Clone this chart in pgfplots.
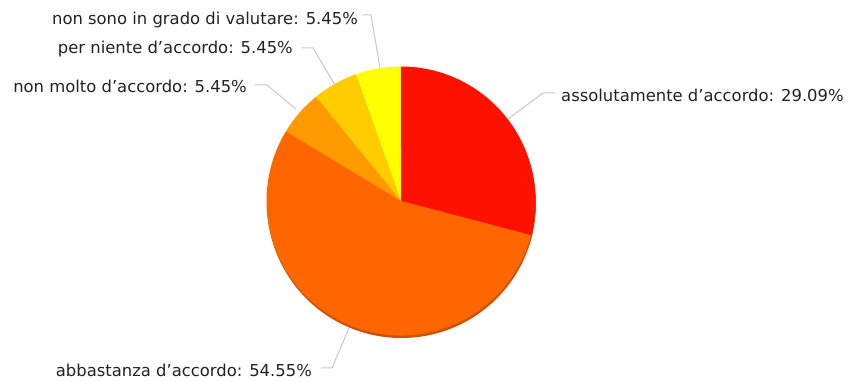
\documentclass[border=0pt]{standalone}
\usepackage{pgfplots}
\usepackage{pgfplotstable}
\pgfplotsset{compat=1.18}
\usepackage{fontspec}
\setmainfont{DejaVu Sans}
\definecolor{sA}{HTML}{FF1100}
\definecolor{sB}{HTML}{FF6600}
\definecolor{sC}{HTML}{FF9900}
\definecolor{sD}{HTML}{FFCC00}
\definecolor{sE}{HTML}{FFFF00}
\definecolor{shadow}{HTML}{C85200}
\definecolor{leader}{HTML}{C8C8C8}
\definecolor{txt}{HTML}{222222}
\tikzset{lbl/.style={text=txt, inner sep=0pt, font=\fontsize{16.4}{19}\selectfont}}

\pgfplotstableread{
idx value
0 29.09
1 54.55
2 5.45
3 5.45
4 5.45
}\piedata

\begin{document}
\begin{tikzpicture}
\pgfplotstablegetelem{0}{value}\of\piedata \let\vA\pgfplotsretval
\pgfplotstablegetelem{1}{value}\of\piedata \let\vB\pgfplotsretval
\pgfplotstablegetelem{2}{value}\of\piedata \let\vC\pgfplotsretval
\pgfplotstablegetelem{3}{value}\of\piedata \let\vD\pgfplotsretval
\pgfplotstablegetelem{4}{value}\of\piedata \let\vE\pgfplotsretval
\pgfmathsetmacro\tot{\vA+\vB+\vC+\vD+\vE}
\pgfmathsetmacro\aA{90}
\pgfmathsetmacro\aB{\aA-\vA/\tot*360}
\pgfmathsetmacro\aC{\aB-\vB/\tot*360}
\pgfmathsetmacro\aD{\aC-\vC/\tot*360}
\pgfmathsetmacro\aE{\aD-\vD/\tot*360}
\pgfmathsetmacro\aF{\aE-\vE/\tot*360}
\begin{axis}[
  width=854pt, height=382pt, scale only axis,
  xmin=0, xmax=854, ymin=0, ymax=382,
  axis lines=none, clip=false,
]
\path (axis cs:0,0) rectangle (axis cs:854,382);
% shadow
\fill[shadow] (axis cs:401.5,178.5) circle[radius=134.5pt];
\fill[sA] (axis cs:401,181) -- ++(\aA:134.5pt) arc[start angle=\aA, end angle=\aB, radius=134.5pt] -- cycle;
\fill[sB] (axis cs:401,181) -- ++(\aB:134.5pt) arc[start angle=\aB, end angle=\aC, radius=134.5pt] -- cycle;
\fill[sC] (axis cs:401,181) -- ++(\aC:134.5pt) arc[start angle=\aC, end angle=\aD, radius=134.5pt] -- cycle;
\fill[sD] (axis cs:401,181) -- ++(\aD:134.5pt) arc[start angle=\aD, end angle=\aE, radius=134.5pt] -- cycle;
\fill[sE] (axis cs:401,181) -- ++(\aE:134.5pt) arc[start angle=\aE, end angle=\aF, radius=134.5pt] -- cycle;
% leader lines
\draw[leader, line width=1pt] (axis cs:362,367) -- (axis cs:371,367) -- (axis cs:380,314);
\draw[leader, line width=1pt] (axis cs:302,334) -- (axis cs:313,334) -- (axis cs:335,297);
\draw[leader, line width=1pt] (axis cs:255,297) -- (axis cs:267,297) -- (axis cs:296,273);
\draw[leader, line width=1pt] (axis cs:555,289) -- (axis cs:543,289) -- (axis cs:508,263);
\draw[leader, line width=1pt] (axis cs:321,14) -- (axis cs:332,14) -- (axis cs:349,54);
% labels
\node[lbl, anchor=east] at (axis cs:358,362) {non sono in grado di valutare: 5.45\%};
\node[lbl, anchor=east] at (axis cs:293,333) {per niente d’accordo: 5.45\%};
\node[lbl, anchor=east] at (axis cs:247,296) {non molto d’accordo: 5.45\%};
\node[lbl, anchor=west] at (axis cs:561,287) {assolutamente d’accordo: 29.09\%};
\node[lbl, anchor=east] at (axis cs:312,12) {abbastanza d’accordo: 54.55\%};
\end{axis}
\end{tikzpicture}
\end{document}
